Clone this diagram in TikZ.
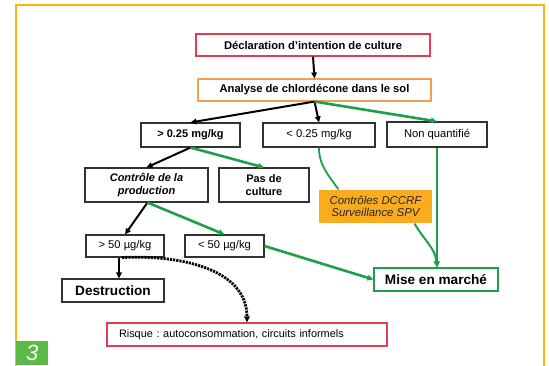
\documentclass[tikz,border=0pt]{standalone}
\usepackage{fontspec}
\setmainfont{Liberation Sans}
\usetikzlibrary{arrows.meta,calc}
\definecolor{fr}{RGB}{253,180,20}
\definecolor{rd}{RGB}{228,60,80}
\definecolor{og}{RGB}{240,160,80}
\definecolor{gn}{RGB}{30,160,75}
\definecolor{dc}{RGB}{250,172,30}
\definecolor{lb}{RGB}{92,185,70}
\definecolor{bx}{RGB}{50,50,50}
\frenchspacing
\begin{document}
\begin{tikzpicture}[x=1pt,y=-1pt,
  box/.style={draw=bx,line width=1.1pt,inner sep=0pt,align=center,text=black,
    font=\fontsize{11.2}{13}\selectfont},
  bigbox/.style={box,font=\fontsize{13.6}{15}\selectfont\bfseries},
  tip/.style={-{Triangle[length=6pt,width=5.5pt]}},
  blk/.style={tip,draw=black,line width=2pt},
  grn/.style={tip,draw=gn,line width=2.6pt},
  thin/.style={draw=gn,line width=1.8pt}]
\useasboundingbox (0,0) rectangle (549,365);
\clip (0,0) rectangle (549,365);
\fill[white] (0,0) rectangle (549,365);
\draw[fr,line width=2.6pt] (16,5) rectangle (544,390);

% nodes
\node[box,draw=rd,minimum width=234pt,minimum height=22pt,font=\fontsize{11.2}{13}\selectfont\bfseries] (decl) at (313,45) {Déclaration d’intention de culture};
\node[box,draw=og,minimum width=233pt,minimum height=22pt,font=\fontsize{11.2}{13}\selectfont\bfseries] (anal) at (314.5,90) {Analyse de chlordécone dans le sol};
\node[box,minimum width=99pt,minimum height=24pt,font=\fontsize{11}{13}\selectfont\bfseries] (gt025) at (190.5,135) {> 0.25 mg/kg};
\node[box,minimum width=112pt,minimum height=24pt] (lt025) at (319,135) {< 0.25 mg/kg};
\node[box,minimum width=100pt,minimum height=25pt] (nonq) at (437,134.5) {Non quantifié};
\node[box,minimum width=123pt,minimum height=34pt,font=\fontsize{11}{13}\selectfont\bfseries\itshape] (ctrl) at (146.5,185) {Contrôle de la\\production};
\node[box,minimum width=90pt,minimum height=34pt,font=\fontsize{11}{13}\selectfont\bfseries] (pas) at (264,185) {Pas de\\culture};
\node[box,draw=none,fill=dc,minimum width=113pt,minimum height=33pt,font=\fontsize{11.4}{12.5}\selectfont\itshape,text=black!85] (dccrf) at (375.5,206.5) {Contrôles DCCRF\\Surveillance SPV};
\node[box,minimum width=78pt,minimum height=22pt] (gt50) at (125,246) {> 50 µg/kg};
\node[box,minimum width=79pt,minimum height=22pt] (lt50) at (224.5,246) {< 50 µg/kg};
\node[bigbox,minimum width=102pt,minimum height=23pt] (destr) at (113,290.5) {Destruction};
\node[bigbox,draw=gn,minimum width=124pt,minimum height=23pt] (mise) at (436,279.5) {Mise en marché};
\node[box,draw=rd,minimum width=280pt,minimum height=23pt,text width=256pt,align=left,font=\fontsize{10.9}{12}\selectfont\frenchspacing] (risk) at (247,334.5) {Risque : autoconsommation, circuits informels};
\node[fill=lb,minimum width=32pt,minimum height=24pt,inner sep=0pt,anchor=north west,text=white,font=\fontsize{22}{22}\selectfont\itshape] (lab) at (16,341) {3};

% connectors
\draw[blk] (decl.south) -- (anal.north);
\draw[blk] (anal.south) -- (gt025.north);
\draw[blk] (anal.south) -- (lt025.north);
\draw[grn] (anal.south) -- (nonq.north);
\draw[blk] (gt025.south) -- (ctrl.north);
\draw[grn] (gt025.south) -- (pas.north);
\draw[thin] (lt025.south) to[out=-90,in=125] ($(dccrf.north)+(-37,0)$);
\draw[thin,tip] (nonq.south) -- (nonq.south |- mise.north);
\draw[thin,tip,line width=2pt] ($(dccrf.south)+(39,0)$) to[out=-60,in=95] ($(mise.north)+(1,0)$);
\draw[blk] ($(ctrl.south)+(1,0)$) -- (gt50.north);
\draw[grn] ($(ctrl.south)+(1,0)$) -- (lt50.north);
\draw[grn] (lt50.east) -- (mise.west);
\coordinate (g50a) at ($(gt50.south)+(-6,0)$);
\draw[blk] (g50a) -- (g50a |- destr.north);
\draw[tip,draw=black,line width=2.8pt,dash pattern=on 2.2pt off 1pt] ($(gt50.south)+(-3,0)$) to[out=3,in=90] (risk.north);
\end{tikzpicture}
\end{document}
